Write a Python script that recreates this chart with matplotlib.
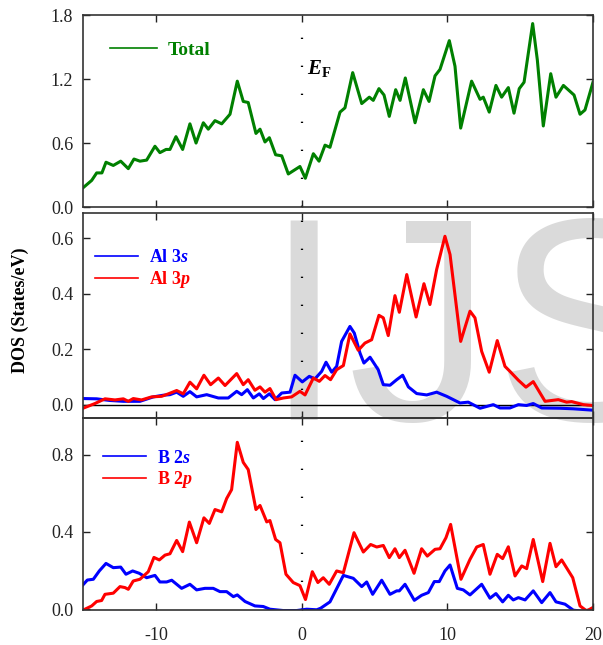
import numpy as np
import matplotlib
matplotlib.use("Agg")
import matplotlib.pyplot as plt
from matplotlib.lines import Line2D

plt.rcParams['font.family'] = ['Liberation Serif', 'DejaVu Serif']
plt.rcParams['mathtext.fontset'] = 'custom'
plt.rcParams['mathtext.rm'] = 'Liberation Serif:bold'
plt.rcParams['mathtext.bf'] = 'Liberation Serif:bold'
plt.rcParams['mathtext.it'] = 'Liberation Serif:italic:bold'
plt.rcParams['axes.unicode_minus'] = False

# Total DOS
tot_e = [-15, -14.4, -14.06, -13.7, -13.42, -12.92, -12.41, -11.89, -11.5, -11.09, -10.63, -10.06,
         -9.72, -9.3, -9.03, -8.62, -8.16, -7.66, -7.24, -6.74, -6.4, -5.94, -5.48, -4.91, -4.41,
         -4.0, -3.66, -3.13, -2.85, -2.51, -2.21, -1.78, -1.36, -0.91, -0.11, 0.26, 0.81, 1.2,
         1.61, 1.95, 2.64, 2.98, 3.51, 4.13, 4.65, 4.92, 5.31, 5.66, 6.02, 6.46, 6.76, 7.12, 7.79,
         8.36, 8.75, 9.16, 9.5, 10.14, 10.53, 10.92, 11.67, 12.25, 12.47, 12.88, 13.34, 13.73,
         14.19, 14.58, 14.94, 15.27, 15.86, 16.18, 16.59, 17.1, 17.46, 17.97, 18.7, 19.11, 19.45, 20]
tot = [0.18, 0.25, 0.32, 0.32, 0.42, 0.39, 0.43, 0.36, 0.45, 0.43, 0.44, 0.57,
       0.51, 0.54, 0.54, 0.66, 0.54, 0.78, 0.60, 0.79, 0.73, 0.81, 0.78, 0.87, 1.18,
       0.99, 0.98, 0.69, 0.73, 0.61, 0.65, 0.49, 0.48, 0.31, 0.38, 0.27, 0.50, 0.43,
       0.58, 0.56, 0.89, 0.93, 1.26, 0.97, 1.03, 1.0, 1.11, 1.05, 0.85, 1.10, 1.00, 1.21, 0.79,
       1.10, 0.99, 1.23, 1.29, 1.56, 1.32, 0.74, 1.18, 1.01, 1.03, 0.89, 1.14, 1.03,
       1.12, 0.88, 1.11, 1.17, 1.72, 1.38, 0.76, 1.25, 1.03, 1.14, 1.05, 0.87, 0.91, 1.17]

# Al partial DOS
al_s_e = [-15, -14.06, -13.15, -12.23, -11.09, -10.17, -9.49, -9.03, -8.57, -8.12, -7.66, -7.2,
          -6.51, -5.71, -5.03, -4.45, -4.11, -3.72, -3.31, -2.9, -2.62, -2.21, -1.82, -1.36,
          -0.79, -0.45, 0.05, 0.53, 0.92, 1.38, 1.68, 2.07, 2.41, 2.75, 3.32, 3.62, 4.01, 4.28,
          4.7, 5.26, 5.61, 6.07, 6.53, 6.94, 7.33, 7.9, 8.59, 9.27, 9.96, 10.87, 11.44, 12.25,
          13.16, 13.62, 14.3, 14.88, 15.45, 15.9, 16.48, 17.74, 18.65, 20]
al_s = [0.023, 0.022, 0.016, 0.013, 0.013, 0.029, 0.035, 0.037, 0.046, 0.031, 0.048, 0.029,
        0.037, 0.025, 0.025, 0.049, 0.037, 0.055, 0.025, 0.040, 0.023, 0.040, 0.019, 0.043,
        0.046, 0.107, 0.083, 0.103, 0.094, 0.121, 0.154, 0.118, 0.139, 0.229, 0.283, 0.259, 0.187, 0.151,
        0.172, 0.127, 0.073, 0.071, 0.091, 0.107, 0.065, 0.041, 0.036, 0.046, 0.031, 0.007, 0.010, -0.012,
        0.001, -0.011, -0.011, 0.001, -0.002, 0.005, -0.011, -0.012, -0.014, -0.019]
al_p_e = [-15, -14.18, -13.49, -12.8, -12.23, -11.89, -11.55, -10.98, -10.29, -9.6, -9.14, -8.57,
          -8.12, -7.66, -7.2, -6.7, -6.24, -5.71, -5.25, -4.45, -4.0, -3.66, -3.2, -2.85, -2.51,
          -2.17, -1.75, -1.25, -0.68, -0.11, 0.24, 0.81, 1.22, 1.61, 1.99, 2.41, 2.87, 3.32, 3.89,
          4.35, 4.81, 5.31, 5.61, 5.95, 6.41, 6.71, 7.22, 7.86, 8.4, 8.81, 9.27, 9.84, 10.19,
          10.92, 11.56, 11.9, 12.36, 12.88, 13.43, 13.96, 14.3, 14.88, 15.4, 15.9, 16.71, 17.62,
          18.19, 18.53, 19.34, 20]
al_p = [-0.012, 0.005, 0.022, 0.018, 0.022, 0.013, 0.023, 0.018, 0.029, 0.031, 0.040, 0.052,
        0.040, 0.082, 0.058, 0.107, 0.073, 0.097, 0.070, 0.113, 0.073, 0.091, 0.053, 0.065, 0.046,
        0.059, 0.019, 0.025, 0.029, 0.049, 0.036, 0.097, 0.085, 0.106, 0.091, 0.127, 0.142, 0.256, 0.197,
        0.223, 0.235, 0.323, 0.314, 0.250, 0.394, 0.334, 0.470, 0.317, 0.437, 0.362, 0.488, 0.608, 0.542,
        0.229, 0.338, 0.314, 0.193, 0.118, 0.232, 0.139, 0.121, 0.089, 0.064, 0.084, 0.013, 0.019,
        0.010, 0.012, 0.001, -0.002]

# B partial DOS
b_s_e = [-15, -14.7, -14.29, -13.88, -13.42, -12.92, -12.41, -12.05, -11.59, -11.14, -10.63, -10.06,
         -9.72, -9.26, -8.91, -8.23, -7.66, -7.2, -6.63, -6.06, -5.6, -5.14, -4.68, -4.41, -3.88,
         -3.2, -2.63, -2.17, -1.25, -0.34, 0.35, 1.04, 1.31, 1.95, 2.87, 3.55, 4.13, 4.47, 4.88,
         5.5, 6.07, 6.53, 6.71, 7.1, 7.74, 8.24, 8.7, 9.11, 9.45, 9.84, 10.19, 10.69, 11.1, 11.56,
         12.36, 12.93, 13.34, 13.8, 14.19, 14.53, 14.88, 15.34, 15.9, 16.48, 17.05, 17.46, 18.08,
         18.65, 20]
b_s = [0.126, 0.151, 0.155, 0.198, 0.237, 0.215, 0.218, 0.181, 0.198, 0.186, 0.163, 0.175,
       0.141, 0.141, 0.150, 0.108, 0.129, 0.100, 0.108, 0.108, 0.091, 0.091, 0.065, 0.074, 0.040,
       0.017, 0.014, 0.0, -0.007, -0.007, 0.0, -0.003, 0.005, 0.038, 0.175, 0.160, 0.117, 0.141, 0.077,
       0.150, 0.077, 0.095, 0.095, 0.129, 0.046, 0.072, 0.086, 0.143, 0.143, 0.198, 0.229, 0.108, 0.100, 0.074,
       0.129, 0.057, 0.081, 0.038, 0.072, 0.048, 0.060, 0.048, 0.095, 0.034, 0.086, 0.038, 0.026,
       -0.005, -0.017]
b_p_e = [-15, -14.4, -14.06, -13.72, -13.49, -12.92, -12.46, -12.12, -11.89, -11.55, -11.09, -10.52,
         -10.13, -9.76, -9.37, -9.03, -8.57, -8.16, -7.7, -7.2, -6.7, -6.33, -5.94, -5.48, -5.14,
         -4.8, -4.41, -4.0, -3.66, -3.13, -2.85, -2.39, -2.17, -1.78, -1.48, -1.07, -0.57, -0.11,
         0.27, 0.74, 1.12, 1.49, 1.9, 2.41, 2.87, 3.6, 4.24, 4.74, 5.16, 5.61, 6.02, 6.41, 6.71,
         7.1, 7.72, 8.24, 8.63, 9.16, 9.5, 9.91, 10.23, 10.94, 11.56, 12.02, 12.47, 12.93, 13.43,
         13.8, 14.19, 14.65, 15.11, 15.45, 15.9, 16.55, 17.05, 17.46, 17.85, 18.61, 19.11, 19.57, 20]
b_p = [-0.005, 0.017, 0.040, 0.045, 0.077, 0.083, 0.117, 0.112, 0.103, 0.146, 0.155, 0.194,
       0.268, 0.255, 0.280, 0.287, 0.356, 0.298, 0.451, 0.344, 0.473, 0.444, 0.516, 0.504, 0.573,
       0.619, 0.864, 0.760, 0.723, 0.516, 0.537, 0.452, 0.459, 0.361, 0.344, 0.181, 0.138, 0.122,
       0.050, 0.194, 0.138, 0.163, 0.129, 0.198, 0.189, 0.396, 0.296, 0.335, 0.322, 0.330, 0.267, 0.313, 0.267,
       0.305, 0.186, 0.313, 0.275, 0.310, 0.313, 0.370, 0.439, 0.155, 0.258, 0.322, 0.335, 0.181, 0.284,
       0.262, 0.323, 0.172, 0.224, 0.210, 0.361, 0.143, 0.341, 0.220, 0.255, 0.163, 0.017, -0.009, 0.009]

green = '#008000'
blue = '#0000ff'
red = '#ff0000'
lw = 2.2

fig = plt.figure(figsize=(6.03, 6.45), dpi=100)
ax1 = fig.add_axes([0.1376, 0.679, 0.8458, 0.2977])
ax2 = fig.add_axes([0.1376, 0.352, 0.8458, 0.3178])
ax3 = fig.add_axes([0.1376, 0.0543, 0.8458, 0.2977])

# watermark letters behind the curves
for letter, xpos in (('I', 0.504), ('J', 0.6965), ('S', 0.981)):
    ax2.text(xpos, 0.3488, letter, transform=fig.transFigure, fontsize=208,
             family='Liberation Sans', color='#dadada', ha='center', va='baseline',
             zorder=0.5, clip_on=False)

ax1.plot(tot_e, tot, color=green, lw=lw, solid_joinstyle='round')
ax2.plot(al_s_e, al_s, color=blue, lw=lw, solid_joinstyle='round')
ax2.plot(al_p_e, al_p, color=red, lw=lw, solid_joinstyle='round')
ax2.axhline(0, color='black', lw=1.0, zorder=1)
ax3.plot(b_s_e, b_s, color=blue, lw=lw, solid_joinstyle='round')
ax3.plot(b_p_e, b_p, color=red, lw=lw, solid_joinstyle='round')

ax1.set_ylim(0, 1.8)
ax1.set_yticks([0.0, 0.6, 1.2, 1.8])
ax2.set_ylim(-0.047, 0.692)
ax2.set_yticks([0.0, 0.2, 0.4, 0.6])
ax3.set_ylim(-0.004, 0.99)
ax3.set_yticks([0.0, 0.4, 0.8])

for ax in (ax1, ax2, ax3):
    ax.set_facecolor('none')
    ax.set_xlim(-15, 20)
    ax.set_xticks([-10, 0, 10, 20])
    ax.axvline(0, color='black', lw=1.6, linestyle=(0, (0.6, 12)), zorder=1)
    ax.tick_params(direction='in', top=True, right=True, length=5, width=1,
                   labelsize=13, pad=7, colors='#222222')
    ax.yaxis.set_major_formatter(matplotlib.ticker.FormatStrFormatter('%.1f'))
    for s in ax.spines.values():
        s.set_color('#333333')
        s.set_linewidth(1.2)
for ax in (ax1, ax2):
    ax.tick_params(labelbottom=False)
ax3.tick_params(axis='x', pad=12)

ax1.text(0.35, 1.30, r'$E_\mathrm{F}$', fontsize=15, ha='left', va='center')

leg_font = {'weight': 'bold', 'size': 13}
ax1.legend([Line2D([], [], color=green, lw=1.2)], ['Total'], loc='center left',
           bbox_to_anchor=(0.053, 0.818), frameon=False, prop={'weight': 'bold', 'size': 14},
           handlelength=2.4, handletextpad=0.55, borderpad=0, borderaxespad=0,
           labelcolor='linecolor')
ax2.legend([Line2D([], [], color=blue, lw=1.2), Line2D([], [], color=red, lw=1.2)],
           ['Al 3$s$', 'Al 3$p$'], loc='center left', bbox_to_anchor=(0.0235, 0.724),
           frameon=False, prop=leg_font, handlelength=2.4, handletextpad=0.6,
           labelspacing=0.15, borderpad=0, borderaxespad=0, labelcolor='linecolor')
ax3.legend([Line2D([], [], color=blue, lw=1.2), Line2D([], [], color=red, lw=1.2)],
           ['B 2$s$', 'B 2$p$'], loc='center left', bbox_to_anchor=(0.039, 0.729),
           frameon=False, prop=leg_font, handlelength=2.4, handletextpad=0.6,
           labelspacing=0.15, borderpad=0, borderaxespad=0, labelcolor='linecolor')

fig.text(0.033, 0.519, 'DOS (States/eV)', rotation=90, fontsize=13, fontweight='bold',
         ha='center', va='center')

fig.savefig('out.png', dpi=100)
